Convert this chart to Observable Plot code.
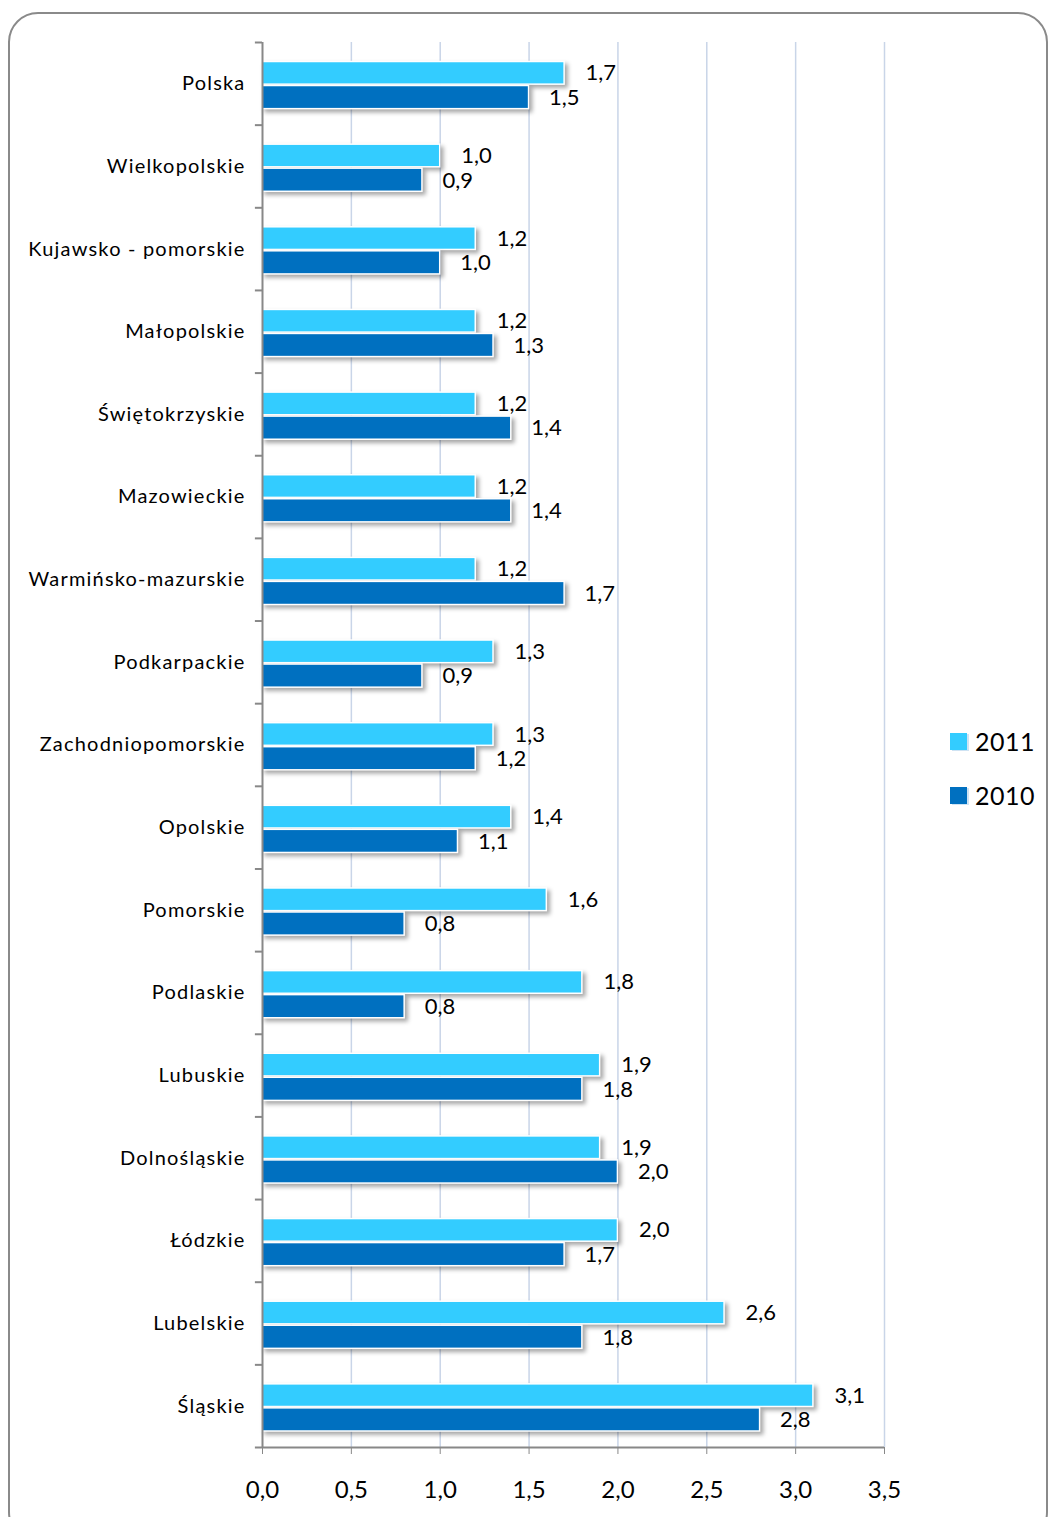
<!DOCTYPE html>
<html>
<head>
<meta charset="utf-8">
<script src="https://cdn.jsdelivr.net/npm/d3@7"></script>
<script src="https://cdn.jsdelivr.net/npm/@observablehq/plot@0.6"></script>
<style>
  html, body { margin: 0; padding: 0; background: #fff; overflow: hidden; }
  #wrap { position: relative; width: 1051px; height: 1517px; overflow: hidden; font-family: Lato, "Open Sans", sans-serif; }
  #frame { position: absolute; left: 8px; top: 12px; width: 1040px; height: 1530px; border: 2px solid #8a8a8a; border-radius: 30px; box-sizing: border-box; }
  #chart { position: absolute; left: 0; top: 0; }
  .leg { position: absolute; left: 950px; font-size: 25px; color: #000; display: flex; align-items: center; letter-spacing: 0.5px; }
  .sw { width: 17px; height: 17px; margin-right: 8px; box-shadow: 2px 1px 0 #cfe3f3; }
</style>
</head>
<body>
<div id="wrap">
  <div id="frame"></div>
  <div id="chart"></div>
  <div id="legend"></div>
</div>
<script>
const categories = ["Polska","Wielkopolskie","Kujawsko - pomorskie","Małopolskie","Świętokrzyskie","Mazowieckie","Warmińsko-mazurskie","Podkarpackie","Zachodniopomorskie","Opolskie","Pomorskie","Podlaskie","Lubuskie","Dolnośląskie","Łódzkie","Lubelskie","Śląskie"];
const values2011 = [1.7,1.0,1.2,1.2,1.2,1.2,1.2,1.3,1.3,1.4,1.6,1.8,1.9,1.9,2.0,2.6,3.1];
const values2010 = [1.5,0.9,1.0,1.3,1.4,1.4,1.7,0.9,1.2,1.1,0.8,0.8,1.8,2.0,1.7,1.8,2.8];
const xTicks = [0,0.5,1,1.5,2,2.5,3,3.5];
const seriesNames = ["2011","2010"];
const seriesColors = ["#33CCFF","#0070C0"];

const d11 = categories.map((c,i)=>({cat:c, v:values2011[i]}));
const d10 = categories.map((c,i)=>({cat:c, v:values2010[i]}));

const W = 1051, H = 1517, mT = 42, mB = 70, mL = 262, mR = 167;
const step = (H - mT - mB) / categories.length;
const fmt = v => d3.format(".1f")(v).replace(".", ",");
const font = "Lato, 'Open Sans', sans-serif";

const plot = Plot.plot({
  width: W, height: H,
  marginTop: mT, marginBottom: mB, marginLeft: mL, marginRight: mR,
  style: {fontFamily: font, background: "transparent", color: "#000"},
  x: {domain: [0, 3.5], ticks: xTicks, label: null},
  y: {domain: categories, padding: 0, round: false, label: null},
  marks: [
    Plot.gridX(xTicks.slice(1), {stroke: "#c9d5e8", strokeOpacity: 1, strokeWidth: 1.5}),
    Plot.barX(d11, {y: "cat", x: "v", fill: seriesColors[0], stroke: "#fff", strokeWidth: 1.5, insetTop: 19.5, insetBottom: 40.5}),
    Plot.barX(d10, {y: "cat", x: "v", fill: seriesColors[1], stroke: "#fff", strokeWidth: 1.5, insetTop: 43.5, insetBottom: 16}),
    Plot.text(d11, {y: "cat", x: "v", text: d => fmt(d.v), dx: 21, dy: -10.5, textAnchor: "start", fontSize: 22, fill: "#000"}),
    Plot.text(d10, {y: "cat", x: "v", text: d => fmt(d.v), dx: 20, dy: 14, textAnchor: "start", fontSize: 22, fill: "#000"}),
    Plot.ruleX([0], {stroke: "#888", strokeWidth: 2}),
    Plot.ruleY(categories, {x1: -0.04, x2: 0, dy: -step/2, stroke: "#888", strokeWidth: 2}),
    Plot.ruleY([categories[categories.length-1]], {x1: -0.04, x2: 3.5, dy: step/2, stroke: "#888", strokeWidth: 2}),
    Plot.axisX({ticks: xTicks, tickFormat: fmt, tickSize: 7, tickPadding: 26, stroke: "#888", fontSize: 24, anchor: "bottom", label: null}),
    Plot.axisY({tickSize: 0, tickPadding: 17, fontSize: 20, anchor: "left", label: null})
  ]
});

d3.select(plot).selectAll('g[aria-label="bar"]').style("filter", "drop-shadow(3px 3px 2px rgba(0,0,0,0.35))");
d3.select(plot).selectAll('g[aria-label="y-axis tick label"] text').style("letter-spacing", "1.2px");
document.getElementById("chart").appendChild(plot);

const legend = document.getElementById("legend");
[{t: seriesNames[0], c: seriesColors[0], y: 741}, {t: seriesNames[1], c: seriesColors[1], y: 795}].forEach(l => {
  const el = document.createElement("div");
  el.className = "leg";
  el.style.top = (l.y - 15) + "px";
  el.style.height = "30px";
  el.innerHTML = `<span class="sw" style="background:${l.c}"></span><span>${l.t}</span>`;
  legend.appendChild(el);
});
</script>
</body>
</html>
